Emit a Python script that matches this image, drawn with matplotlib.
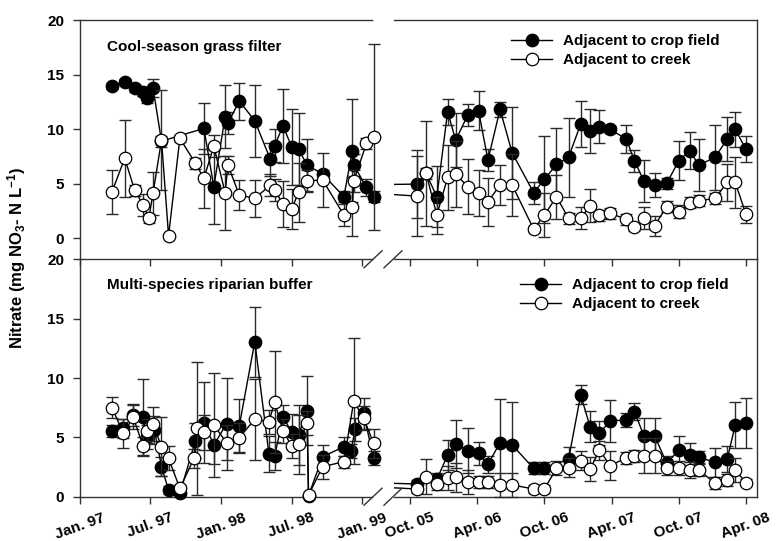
import numpy as np
import matplotlib
matplotlib.use('Agg')
import matplotlib.pyplot as plt
from matplotlib.lines import Line2D

plt.rcParams['font.family'] = ['Liberation Sans', 'DejaVu Sans']
plt.rcParams['font.weight'] = 'bold'
plt.rcParams['mathtext.fontset'] = 'custom'
plt.rcParams['mathtext.rm'] = 'Liberation Sans:bold'
plt.rcParams['mathtext.bf'] = 'Liberation Sans:bold'
plt.rcParams['mathtext.it'] = 'Liberation Sans:bold:italic'

# ---------------- data (decimal years) ----------------
# Cool-season grass filter : adjacent to crop field
top_crop_dates = [1997.23, 1997.32, 1997.39, 1997.45, 1997.48, 1997.52, 1997.58,
                  1997.88, 1997.95, 1998.03, 1998.05, 1998.13, 1998.24, 1998.35,
                  1998.38, 1998.44, 1998.50, 1998.55, 1998.61, 1998.72, 1998.87,
                  1998.93, 1998.94, 1999.03, 1999.08,
                  2005.80, 2005.87, 2005.95, 2006.03, 2006.09, 2006.18, 2006.26,
                  2006.33, 2006.42, 2006.51, 2006.67, 2006.75, 2006.84, 2006.93,
                  2007.02, 2007.09, 2007.16, 2007.24, 2007.36, 2007.42, 2007.49,
                  2007.57, 2007.66, 2007.75, 2007.83, 2007.90, 2008.02, 2008.11,
                  2008.17, 2008.25]
top_crop_vals = [13.95, 14.34, 13.73, 13.43, 12.88, 13.79, 8.9,
                 10.07, 4.73, 11.14, 10.53, 12.57, 10.77, 7.23,
                 8.48, 10.31, 8.39, 8.15, 6.71, 5.89, 3.81,
                 8.02, 6.71, 4.67, 3.81,
                 4.97, 5.95, 3.81, 11.6, 9.0, 11.29, 11.69,
                 7.17, 11.81, 7.84, 4.18, 5.4, 6.78, 7.42,
                 10.47, 9.83, 10.22, 9.98, 9.09, 7.11, 5.27,
                 4.88, 5.03, 7.11, 8.02, 6.71, 7.42, 9.09,
                 9.98, 8.15]
top_crop_sd = [0.3, 0.3, 0.3, 0.4, 0.5, 0.8, 0.5,
               2.3, 3.4, 2.9, 1.0, 1.7, 3.3, 1.5,
               1.5, 3.4, 3.5, 3.3, 2.35, 0.4, 0.5,
               4.7, 1.0, 0.8, 0.5,
               3.1, 0.5, 2.8, 1.2, 2.5, 1.0, 1.8,
               1.0, 0.7, 4.2, 1.0, 4.0, 3.3, 3.6,
               2.1, 2.0, 1.5, 0.3, 1.3, 1.0, 1.9,
               1.1, 0.5, 1.8, 1.7, 2.4, 3.0, 2.0,
               1.6, 1.2]

# Cool-season grass filter : adjacent to creek
top_creek_dates = [1997.23, 1997.32, 1997.39, 1997.45, 1997.49, 1997.52, 1997.58,
                   1997.63, 1997.71, 1997.82, 1997.88, 1997.95, 1998.03, 1998.05,
                   1998.13, 1998.24, 1998.35, 1998.38, 1998.44, 1998.50, 1998.55,
                   1998.61, 1998.72, 1998.87, 1998.93, 1998.94, 1999.03, 1999.08,
                   2005.80, 2005.87, 2005.95, 2006.03, 2006.09, 2006.18, 2006.26,
                   2006.33, 2006.42, 2006.51, 2006.67, 2006.75, 2006.84, 2006.93,
                   2007.02, 2007.09, 2007.16, 2007.24, 2007.36, 2007.42, 2007.49,
                   2007.57, 2007.66, 2007.75, 2007.83, 2007.90, 2008.02, 2008.11,
                   2008.17, 2008.25]
top_creek_vals = [4.27, 7.33, 4.42, 3.05, 1.83, 4.12, 9.0,
                  0.24, 9.16, 6.87, 5.49, 8.45, 4.18, 6.71,
                  3.97, 3.66, 4.88, 4.42, 3.14, 2.68, 4.21,
                  5.27, 5.34, 2.13, 2.9, 5.27, 8.7, 9.3,
                  3.87, 5.95, 2.13, 5.58, 5.89, 4.73, 4.12,
                  3.35, 4.88, 4.88, 0.85, 2.13, 3.81, 1.83,
                  1.83, 2.99, 2.13, 2.29, 1.74, 1.0, 1.89,
                  1.16, 2.9, 2.44, 3.26, 3.44, 3.66, 5.12,
                  5.12, 2.2]
top_creek_sd = [2.0, 3.5, 0.5, 1.0, 0.4, 2.0, 4.6,
                0.2, 0.3, 0.5, 2.7, 1.0, 3.4, 0.8,
                1.4, 1.7, 1.0, 1.0, 2.1, 1.8, 2.7,
                1.0, 2.5, 1.0, 2.7, 1.0, 0.5, 8.5,
                3.7, 4.8, 1.7, 3.0, 3.0, 2.5, 2.1,
                2.2, 1.8, 2.8, 0.3, 2.0, 2.0, 0.5,
                1.0, 1.5, 0.5, 0.5, 0.5, 0.3, 1.0,
                0.9, 0.5, 0.6, 0.5, 0.5, 0.5, 1.7,
                2.3, 0.8]

# Multi-species riparian buffer : adjacent to crop field
bot_crop_dates = [1997.23, 1997.31, 1997.38, 1997.45, 1997.48, 1997.53, 1997.58,
                  1997.63, 1997.71, 1997.82, 1997.88, 1997.95, 1998.04, 1998.13,
                  1998.24, 1998.34, 1998.38, 1998.44, 1998.50, 1998.55, 1998.61,
                  1998.62, 1998.72, 1998.87, 1998.92, 1998.95, 1999.01, 1999.08,
                  2005.80, 2005.95, 2006.03, 2006.09, 2006.18, 2006.26, 2006.33,
                  2006.42, 2006.51, 2006.67, 2006.75, 2006.93, 2007.02, 2007.09,
                  2007.16, 2007.24, 2007.36, 2007.42, 2007.49, 2007.57, 2007.66,
                  2007.75, 2007.83, 2007.90, 2008.02, 2008.11, 2008.17, 2008.25]
bot_crop_vals = [5.53, 5.76, 6.88, 6.69, 5.05, 5.62, 2.53,
                 0.56, 0.28, 4.72, 6.24, 4.36, 6.13, 5.96,
                 13.06, 3.6, 3.43, 6.69, 5.48, 5.2, 7.25,
                 0.1, 3.37, 4.21, 3.88, 5.67, 7.02, 3.23,
                 1.07, 1.46, 3.51, 4.44, 3.88, 3.65, 2.73,
                 4.55, 4.36, 2.39, 2.39, 3.15, 8.57, 5.9,
                 5.34, 6.4, 6.46, 7.16, 5.14, 5.14, 2.81,
                 3.93, 3.51, 3.32, 2.9, 3.15, 6.04, 6.24]
bot_crop_sd = [0.5, 0.8, 0.9, 3.2, 1.0, 1.2, 0.8,
               0.3, 0.2, 1.5, 3.4, 1.6, 3.9, 2.3,
               2.95, 1.5, 1.2, 1.0, 1.5, 2.5, 2.9,
               0.1, 1.0, 0.8, 0.6, 1.0, 1.3, 0.6,
               0.3, 0.5, 1.3, 2.0, 1.9, 1.0, 0.7,
               3.65, 3.6, 0.5, 0.5, 1.0, 0.8, 1.3,
               1.0, 1.75, 0.6, 0.7, 1.5, 1.5, 0.6,
               1.2, 1.0, 0.5, 1.2, 1.1, 1.9, 2.1]

# Multi-species riparian buffer : adjacent to creek
bot_creek_dates = [1997.23, 1997.31, 1997.38, 1997.45, 1997.48, 1997.52, 1997.58,
                   1997.63, 1997.71, 1997.81, 1997.83, 1997.88, 1997.95, 1998.04,
                   1998.13, 1998.24, 1998.34, 1998.38, 1998.44, 1998.50, 1998.55,
                   1998.61, 1998.62, 1998.72, 1998.87, 1998.94, 1999.01, 1999.08,
                   2005.80, 2005.87, 2005.95, 2006.03, 2006.09, 2006.18, 2006.26,
                   2006.33, 2006.42, 2006.51, 2006.67, 2006.75, 2006.84, 2006.93,
                   2007.02, 2007.09, 2007.16, 2007.24, 2007.36, 2007.42, 2007.49,
                   2007.57, 2007.66, 2007.75, 2007.83, 2007.90, 2008.02, 2008.11,
                   2008.17, 2008.25]
bot_creek_vals = [7.5, 5.34, 6.69, 4.27, 5.53, 6.13, 4.21,
                  3.23, 0.7, 3.23, 5.76, 5.42, 6.04, 4.55,
                  4.97, 6.52, 6.32, 7.95, 5.56, 4.27, 4.41,
                  6.24, 0.14, 2.53, 2.95, 8.06, 6.6, 4.5,
                  0.65, 1.69, 1.07, 1.55, 1.63, 1.21, 1.26,
                  1.26, 0.99, 0.99, 0.65, 0.65, 2.39, 2.44,
                  3.01, 2.33, 3.93, 2.61, 3.29, 3.46, 3.46,
                  3.46, 2.44, 2.44, 2.25, 2.25, 1.13, 1.41,
                  2.25, 1.18]
bot_creek_sd = [0.9, 1.2, 1.0, 0.8, 1.0, 1.4, 2.5,
                1.0, 0.3, 0.8, 5.6, 1.5, 4.4, 1.5,
                1.2, 3.4, 1.0, 4.3, 1.0, 1.0, 2.5,
                1.0, 0.1, 1.0, 0.5, 5.3, 1.0, 1.2,
                0.3, 1.5, 0.5, 1.0, 1.2, 1.0, 0.5,
                0.5, 1.0, 1.0, 0.3, 0.3, 0.6, 0.8,
                0.8, 1.0, 0.8, 1.2, 0.5, 0.5, 1.5,
                1.5, 0.6, 0.6, 0.7, 0.5, 0.5, 0.5,
                1.0, 0.3]

left_ticks = [1997.0, 1997.5, 1998.0, 1998.5, 1999.0]
left_labels = ['Jan. 97', 'Jul. 97', 'Jan. 98', 'Jul. 98', 'Jan. 99']
right_ticks = [2005.75, 2006.25, 2006.75, 2007.25, 2007.75, 2008.25]
right_labels = ['Oct. 05', 'Apr. 06', 'Oct. 06', 'Apr. 07', 'Oct. 07', 'Apr. 08']
y_ticks = [0, 5, 10, 15, 20]
panel_titles = ['Cool-season grass filter', 'Multi-species riparian buffer']
legend_labels = ['Adjacent to crop field', 'Adjacent to creek']

# ---------------- layout ----------------
W, H = 783, 541
fig = plt.figure(figsize=(W / 100, H / 100), dpi=100)


def fx(px):
    return px / W


def fy(py):
    return 1 - py / H


xL0, xL1 = 79.5, 372
xR0, xR1 = 394, 757
rows = [(20, 259.3, (-1.92, 20)), (259.3, 496.7, (0, 20))]
left_lim = (1997.0, 1999.069)
right_lim = (2005.631, 2008.332)
spine_col = '#333333'

panels = [
    [(top_crop_dates, top_crop_vals, top_crop_sd, 'black'),
     (top_creek_dates, top_creek_vals, top_creek_sd, 'white')],
    [(bot_crop_dates, bot_crop_vals, bot_crop_sd, 'black'),
     (bot_creek_dates, bot_creek_vals, bot_creek_sd, 'white')],
]


def draw_series(ax, d, v, s, face, lim, z0):
    d = np.asarray(d, float)
    v = np.asarray(v, float)
    s = np.asarray(s, float)
    ax.plot(d, v, '-', color='black', lw=1.0, zorder=z0 + 1)
    m = (d >= lim[0] - 0.05) & (d <= lim[1] + 0.05)
    eb = ax.errorbar(d[m], v[m], yerr=s[m], fmt='none', ecolor='#2a2a2a',
                     elinewidth=1.0, capsize=4, capthick=1.0, zorder=z0)
    for a in eb.get_children():
        a.set_clip_on(False)
    ax.plot(d[m], v[m], 'o', ls='none', ms=9, mfc=face, mec='black',
            mew=0.9, zorder=z0 + 2, clip_on=False)


axes_all = []
for r, (y0, y1, ylim) in enumerate(rows):
    axL = fig.add_axes([fx(xL0), fy(y1), fx(xL1 - xL0), (y1 - y0) / H])
    axR = fig.add_axes([fx(xR0), fy(y1), fx(xR1 - xR0), (y1 - y0) / H])
    for ax, lim, ticks, labels in ((axL, left_lim, left_ticks, left_labels),
                                   (axR, right_lim, right_ticks, right_labels)):
        ax.set_xlim(*lim)
        ax.set_ylim(*ylim)
        ax.patch.set_alpha(0)
        for k, (d, v, s, face) in enumerate(panels[r]):
            draw_series(ax, d, v, s, face, lim, 2 + 4 * k)
        ax.set_xticks(ticks)
        if r == 1:
            ax.set_xticklabels(labels, rotation=20, fontsize=11,
                               fontweight='bold')
        else:
            ax.set_xticklabels([])
        ax.tick_params(axis='x', direction='out', length=5, width=1,
                       color=spine_col, pad=5)
        for sp in ax.spines.values():
            sp.set_color(spine_col)
            sp.set_linewidth(1.0)
        if r == 1:
            ax.spines['top'].set_visible(False)
    axL.spines['right'].set_visible(False)
    axR.spines['left'].set_visible(False)
    axL.set_yticks(y_ticks)
    axL.set_yticklabels([str(t) for t in y_ticks], fontsize=11,
                        fontweight='bold')
    axL.tick_params(axis='y', direction='out', length=5, width=1,
                    color=spine_col, pad=6)
    axR.tick_params(axis='y', left=False, labelleft=False, right=False)
    axes_all.append((axL, axR))

# break marks
for yb in (259.3, 496.7):
    for xc in (373, 393):
        fig.add_artist(Line2D([fx(xc - 9), fx(xc + 9)], [fy(yb + 8.5), fy(yb - 8.5)],
                              transform=fig.transFigure, color=spine_col,
                              lw=1.0))

# panel titles
fig.text(fx(107), fy(47), panel_titles[0], fontsize=11, fontweight='bold',
         va='center', ha='left')
fig.text(fx(107), fy(285), panel_titles[1], fontsize=11, fontweight='bold',
         va='center', ha='left')

# legends
handles = [Line2D([], [], color='black', lw=1, marker='o', ms=9,
                  mfc='black', mec='black', mew=0.9),
           Line2D([], [], color='black', lw=1, marker='o', ms=9,
                  mfc='white', mec='black', mew=0.9)]
for (axL, axR), (lx, ly) in zip(axes_all, [(511, 34), (520, 278)]):
    axR.legend(handles, legend_labels, loc='upper left',
               bbox_to_anchor=(fx(lx), fy(ly)), bbox_transform=fig.transFigure,
               frameon=False, prop={'weight': 'bold', 'size': 11},
               handlelength=2.7, handletextpad=0.7, labelspacing=0.35,
               borderpad=0, borderaxespad=0)

fig.text(fx(17), fy(258),
         r'Nitrate (mg NO$_{\mathbf{3}}$- N L$^{\mathbf{-1}}$)',
         rotation=90, va='center', ha='center', fontsize=12,
         fontweight='bold')

fig.savefig('out.png', dpi=100)
